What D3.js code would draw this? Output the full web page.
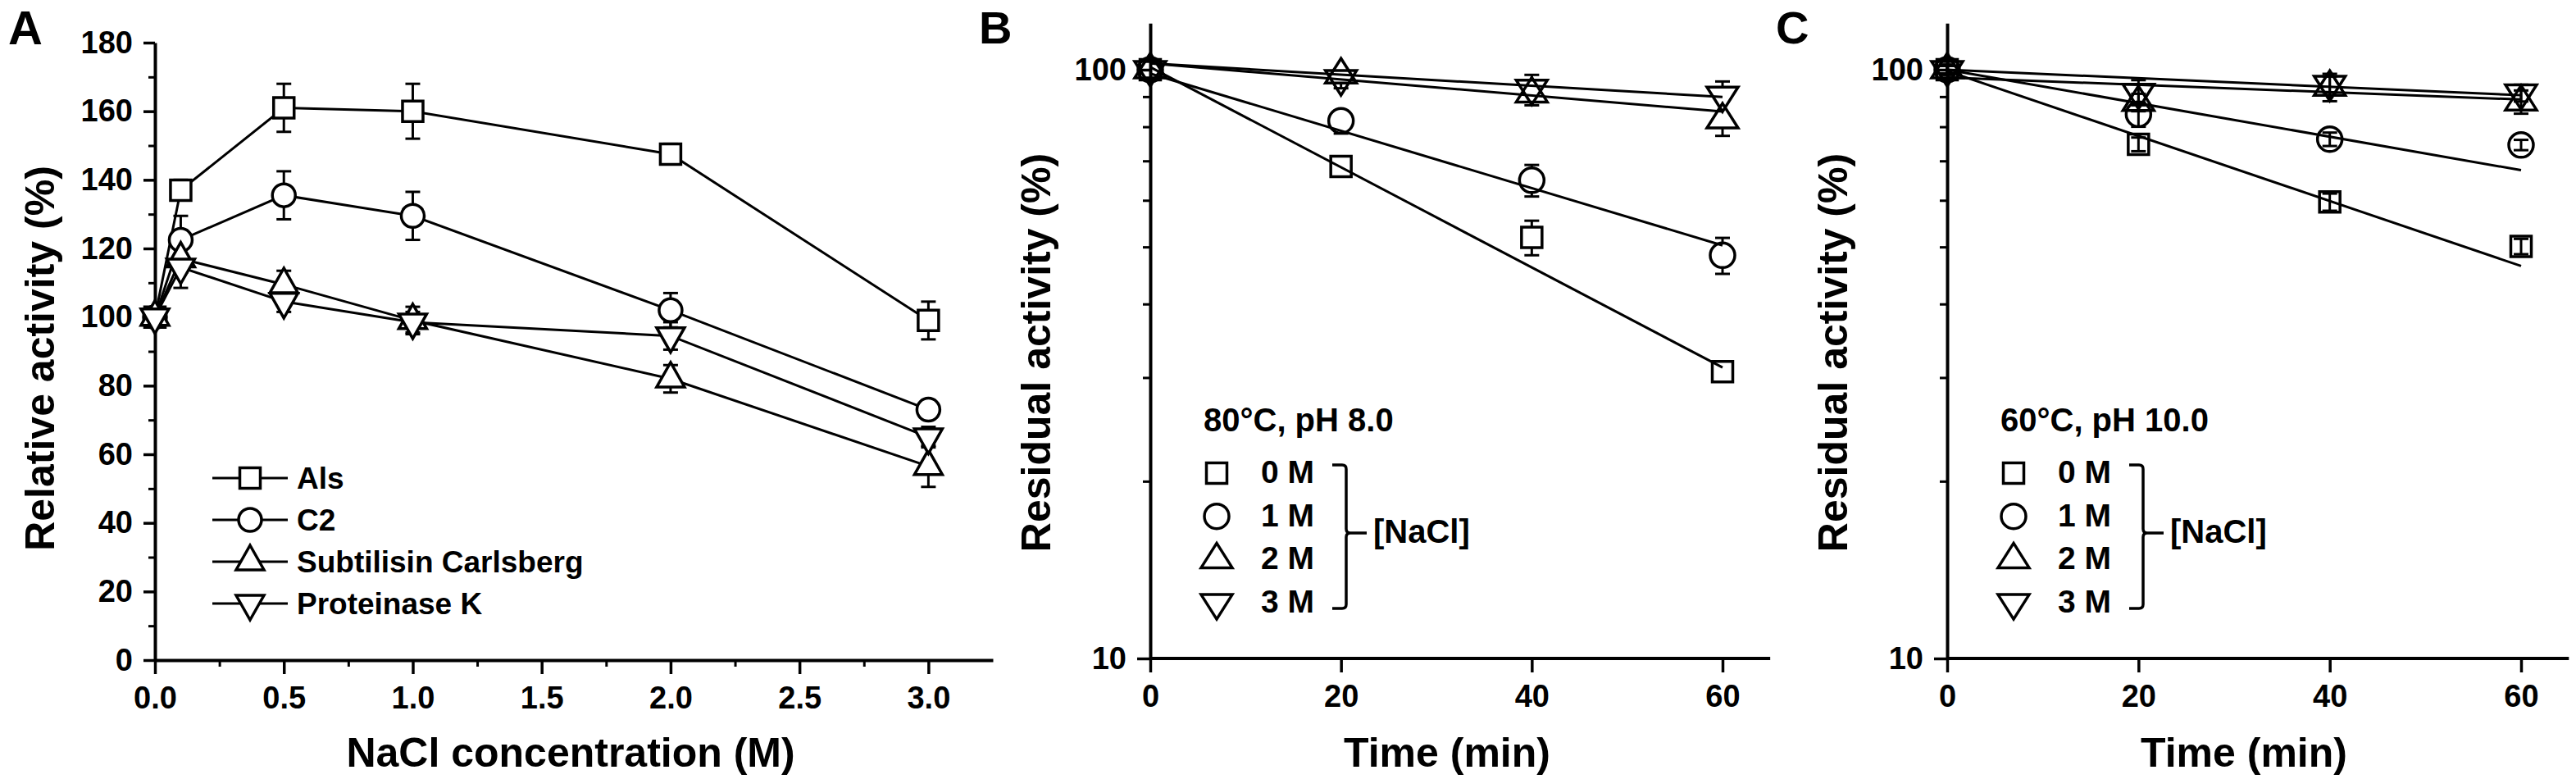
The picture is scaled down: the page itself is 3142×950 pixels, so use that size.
<!DOCTYPE html>
<html>
<head>
<meta charset="utf-8">
<title>NaCl and protease activity</title>
<script src="https://d3js.org/d3.v7.min.js"></script>
<style>
  body { margin: 0; background: #fff; }
  text { font-family: "Liberation Sans", Arial, sans-serif; font-weight: bold; fill: #000; }
</style>
</head>
<body>
<div id="chart"></div>
<script>
// ---- panel A: relative activity vs NaCl ----
const naclConc = [0, 0.1, 0.5, 1.0, 2.0, 3.0];
const alsAct = [100, 137, 161, 160, 147.5, 99];
const alsErr = [2, 3, 7, 8, 3, 5.5];
const c2Act = [100, 122.5, 135.5, 129.5, 102, 73];
const c2Err = [2, 7, 7, 7, 5, 2];
const subAct = [100, 117, 109.5, 99, 82, 56.5];
const subErr = [2, 4, 4, 4, 4, 6];
const protkAct = [100, 114.5, 104.5, 98.5, 94.5, 65];
const protkErr = [2, 6, 3, 3, 4, 3];
const enzymeNames = ["Als", "C2", "Subtilisin Carlsberg", "Proteinase K"];
const naclTicks = [0, 0.5, 1.0, 1.5, 2.0, 2.5, 3.0];
const naclMinor = [0.25, 0.75, 1.25, 1.75, 2.25, 2.75];
const relTicks = [0, 20, 40, 60, 80, 100, 120, 140, 160, 180];
const relMinor = [10, 30, 50, 70, 90, 110, 130, 150, 170];

// ---- panels B and C: residual activity vs time ----
const timeMin = [0, 20, 40, 60];
const saltLabels = ["0 M", "1 M", "2 M", "3 M"];
const bRes0 = [100, 68.5, 51.9, 30.7], bErr0 = [1.5, 2, 3.5, 1];
const bRes1 = [100, 81.9, 64.9, 48.4], bErr1 = [1.5, 4, 4, 3.4];
const bRes2 = [100, 98, 91, 82.2], bErr2 = [2, 5, 4, 5];
const bRes3 = [100, 96.5, 93, 90.5], bErr3 = [2, 3, 5, 5];
const bFitStart = [101, 98.5, 102.5, 102.5];
const bFitEnd = [31.2, 50.3, 84.9, 89.9];
const cRes0 = [100, 74.7, 59.6, 50.1], cErr0 = [1.5, 2, 2, 1.5];
const cRes1 = [100, 84, 76.2, 74.5], cErr1 = [1.5, 4, 2, 1.5];
const cRes2 = [100, 88, 93.4, 88.2], cErr2 = [2, 3, 5, 4];
const cRes3 = [100, 91.5, 94.4, 91.3], cErr3 = [2, 4.5, 3, 3];
const cFitStart = [99.5, 100, 97, 100];
const cFitEnd = [46.4, 67.5, 89, 90.5];
const timeTicks = [0, 20, 40, 60];
const logTicks = [10, 100];
const logMinor = [20, 30, 40, 50, 60, 70, 80, 90];

const symbols = ["square", "circle", "up", "down"];

const svg = d3.select("#chart").append("svg")
  .attr("width", 3142).attr("height", 950);

// marker outline centred on the point (triangles on their centroid)
function markerPath(type, big) {
  const p = d3.path();
  const hw = big ? 19 : 17, r = big ? 15 : 14;
  if (type === "square") { p.rect(-12.5, -12.5, 25, 25); }
  else if (type === "circle") { p.arc(0, 0, r, 0, 2 * Math.PI); }
  else if (type === "up") { p.moveTo(0, -20); p.lineTo(hw, 10); p.lineTo(-hw, 10); p.closePath(); }
  else { p.moveTo(0, 20); p.lineTo(hw, -10); p.lineTo(-hw, -10); p.closePath(); }
  return p.toString();
}
const extent = { square: [12.5, 12.5], circle: [15, 15], up: [20, 10], down: [10, 20] };

function styleAxis(g, w) {
  g.select(".domain").attr("stroke-width", 4);
  g.selectAll(".tick line").attr("stroke-width", w);
  g.selectAll(".tick text").style("font-size", "38px");
}

function errorBars(g, x, y, xs, ys, es, type, full) {
  const cap = 9;
  const [up, dn] = extent[type];
  xs.forEach((xv, i) => {
    const cx = x(xv), cy = y(ys[i]);
    const yt = y(ys[i] + es[i]), yb = y(ys[i] - es[i]);
    const segs = [];
    if (full) segs.push([yt, yb]);
    else {
      if (yt < cy - up) segs.push([yt, cy - up]);
      if (yb > cy + dn) segs.push([cy + dn, yb]);
    }
    segs.forEach(s => g.append("line").attr("x1", cx).attr("x2", cx)
      .attr("y1", s[0]).attr("y2", s[1]).attr("stroke", "#000").attr("stroke-width", 3));
    [yt, yb].forEach(yy => {
      if (full || yy < cy - up || yy > cy + dn)
        g.append("line").attr("x1", cx - cap).attr("x2", cx + cap)
          .attr("y1", yy).attr("y2", yy).attr("stroke", "#000").attr("stroke-width", 3);
    });
  });
}

function markers(g, x, y, xs, ys, type, fill, big) {
  g.selectAll(null).data(xs).enter().append("path")
    .attr("d", markerPath(type, big))
    .attr("transform", (d, i) => `translate(${x(d)},${y(ys[i])})`)
    .attr("fill", fill).attr("stroke", "#000").attr("stroke-width", 3.5);
}

// ================= Panel A =================
{
  const x = d3.scaleLinear().domain([0, 3.25]).range([189, 1211]);
  const y = d3.scaleLinear().domain([0, 180]).range([805, 52]);
  const g = svg.append("g");

  const xa = g.append("g").attr("transform", "translate(0,805)")
    .call(d3.axisBottom(x).tickValues(naclTicks).tickFormat(d3.format(".1f"))
      .tickSize(17).tickSizeOuter(0).tickPadding(15));
  styleAxis(xa, 3.5);
  const xm = g.append("g").attr("transform", "translate(0,805)")
    .call(d3.axisBottom(x).tickValues(naclMinor).tickFormat("").tickSize(8).tickSizeOuter(0));
  xm.select(".domain").remove(); xm.selectAll(".tick line").attr("stroke-width", 3);

  const ya = g.append("g").attr("transform", "translate(189,0)")
    .call(d3.axisLeft(y).tickValues(relTicks).tickSize(14).tickSizeOuter(0).tickPadding(13));
  styleAxis(ya, 3.5);
  const ym = g.append("g").attr("transform", "translate(189,0)")
    .call(d3.axisLeft(y).tickValues(relMinor).tickFormat("").tickSize(8).tickSizeOuter(0));
  ym.select(".domain").remove(); ym.selectAll(".tick line").attr("stroke-width", 3);

  const series = [[alsAct, alsErr], [c2Act, c2Err], [subAct, subErr], [protkAct, protkErr]];
  const line = d3.line().x((d, i) => x(naclConc[i])).y(d => y(d));
  series.forEach(s => g.append("path").datum(s[0]).attr("d", line)
    .attr("fill", "none").attr("stroke", "#000").attr("stroke-width", 3));
  series.forEach((s, k) => errorBars(g, x, y, naclConc, s[0], s[1], symbols[k], true));
  series.forEach((s, k) => markers(g, x, y, naclConc, s[0], symbols[k], "#fff", false));

  // legend
  enzymeNames.forEach((name, k) => {
    const ry = 583 + k * 51;
    g.append("line").attr("x1", 259).attr("x2", 351).attr("y1", ry).attr("y2", ry)
      .attr("stroke", "#000").attr("stroke-width", 3);
    g.append("path").attr("d", markerPath(symbols[k], false)).attr("transform", `translate(305,${ry})`)
      .attr("fill", "#fff").attr("stroke", "#000").attr("stroke-width", 3.5);
    g.append("text").attr("x", 362).attr("y", ry + 13).style("font-size", "37px").text(name);
  });

  g.append("text").attr("x", 696).attr("y", 935).attr("text-anchor", "middle")
    .style("font-size", "50px").text("NaCl concentration (M)");
  g.append("text").attr("transform", "translate(66,437) rotate(-90)").attr("text-anchor", "middle")
    .style("font-size", "50px").text("Relative activity (%)");
  g.append("text").attr("x", 10).attr("y", 54).style("font-size", "58px").text("A");
}

// ================= Panels B, C =================
function decayPanel(left, right60, letter, cond, res, errs, fitStart, fitEnd, fullBars) {
  const x = d3.scaleLinear().domain([0, 60]).range([left, right60]);
  const y = d3.scaleLog().domain([10, 120]).range([803, 803 - 718 * Math.log10(12)]);
  const g = svg.append("g");

  const xa = g.append("g").attr("transform", "translate(0,803)")
    .call(d3.axisBottom(x).tickValues(timeTicks).tickFormat(d3.format("d"))
      .tickSize(17).tickSizeOuter(0).tickPadding(15));
  // let the axis run on a little past 60 min
  xa.select(".domain").attr("d", `M${left},0H${x(65)}`);
  styleAxis(xa, 3.5);

  const ya = g.append("g").attr("transform", `translate(${left},0)`)
    .call(d3.axisLeft(y).tickValues(logTicks).tickFormat(d3.format("d"))
      .tickSize(16).tickSizeOuter(0).tickPadding(13));
  styleAxis(ya, 3.5);
  const ym = g.append("g").attr("transform", `translate(${left},0)`)
    .call(d3.axisLeft(y).tickValues(logMinor).tickFormat("").tickSize(9).tickSizeOuter(0));
  ym.select(".domain").remove(); ym.selectAll(".tick line").attr("stroke-width", 3);

  // exponential fit lines (straight on the log axis)
  fitStart.forEach((v, k) => g.append("line")
    .attr("x1", x(0)).attr("y1", y(v)).attr("x2", x(60)).attr("y2", y(fitEnd[k]))
    .attr("stroke", "#000").attr("stroke-width", 3));
  res.forEach((r, k) => errorBars(g, x, y, timeMin, r, errs[k], symbols[k], fullBars));
  res.forEach((r, k) => markers(g, x, y, timeMin, r, symbols[k], "none", true));

  // legend
  g.append("text").attr("x", left + 65).attr("y", 526).style("font-size", "40px").text(cond);
  saltLabels.forEach((lab, k) => {
    const ry = 577 + k * 52.7;
    g.append("path").attr("d", markerPath(symbols[k], true)).attr("transform", `translate(${left + 81},${ry})`)
      .attr("fill", "none").attr("stroke", "#000").attr("stroke-width", 3.5);
    g.append("text").attr("x", left + 135).attr("y", ry + 12).style("font-size", "39px").text(lab);
  });
  const bx = left + 239, top = 567, bot = 742, mid = 650;
  g.append("path")
    .attr("d", `M${bx - 17},${top}H${bx - 5}Q${bx},${top} ${bx},${top + 5}V${mid - 5}Q${bx},${mid} ${bx + 5},${mid}` +
      `H${bx + 25}M${bx + 5},${mid}Q${bx},${mid} ${bx},${mid + 5}V${bot - 5}Q${bx},${bot} ${bx - 5},${bot}H${bx - 17}`)
    .attr("fill", "none").attr("stroke", "#000").attr("stroke-width", 3.5);
  g.append("text").attr("x", left + 272).attr("y", 662).style("font-size", "40px").text("[NaCl]");

  g.append("text").attr("x", left + 362).attr("y", 935).attr("text-anchor", "middle")
    .style("font-size", "50px").text("Time (min)");
  g.append("text").attr("transform", `translate(${left - 122},430) rotate(-90)`).attr("text-anchor", "middle")
    .style("font-size", "50px").text("Residual activity (%)");
  g.append("text").attr("x", left - 209).attr("y", 53).style("font-size", "56px").text(letter);
}

decayPanel(1403, 2101, "B", "80\u00B0C, pH 8.0",
  [bRes0, bRes1, bRes2, bRes3], [bErr0, bErr1, bErr2, bErr3], bFitStart, bFitEnd, false);
decayPanel(2375, 3075, "C", "60\u00B0C, pH 10.0",
  [cRes0, cRes1, cRes2, cRes3], [cErr0, cErr1, cErr2, cErr3], cFitStart, cFitEnd, true);
</script>
</body>
</html>
